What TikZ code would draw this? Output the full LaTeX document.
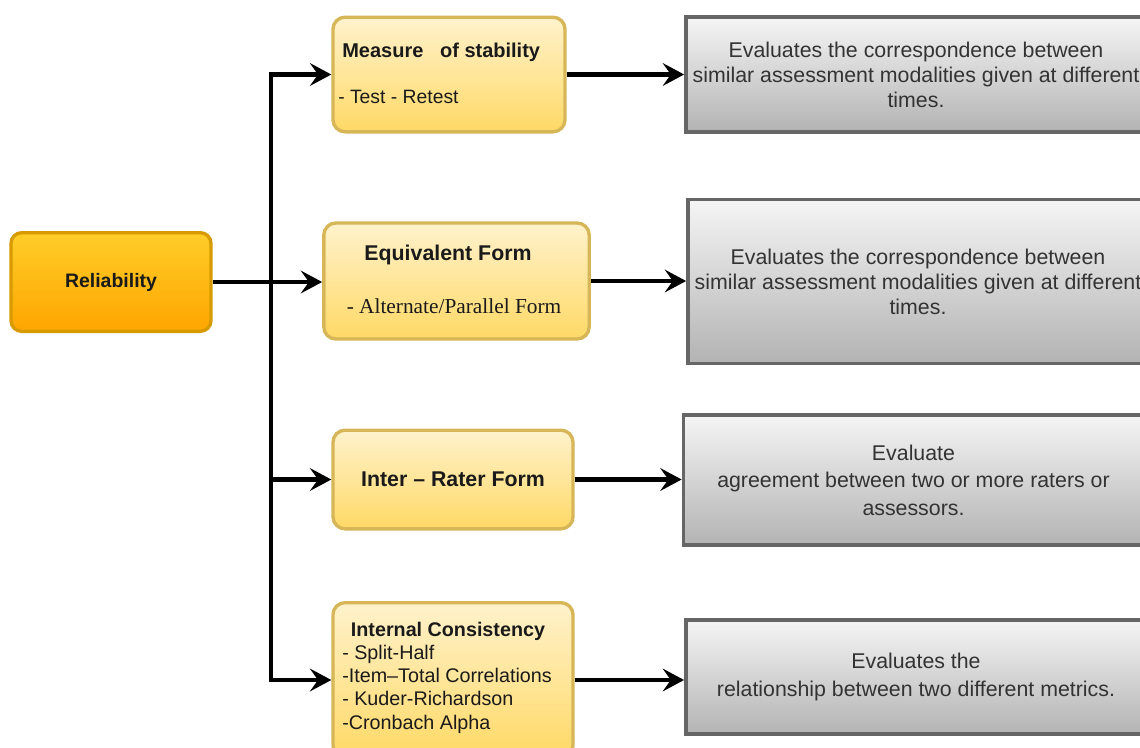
\documentclass[tikz,border=0pt]{standalone}
\usepackage{fontspec}
\setmainfont{Liberation Sans}
\newfontfamily\timesfont{Liberation Serif}
\usetikzlibrary{arrows.meta}
\definecolor{orangetop}{HTML}{FFCD28}
\definecolor{orangebot}{HTML}{FFA500}
\definecolor{orangeline}{HTML}{D79B00}
\definecolor{yellowtop}{HTML}{FFF2CC}
\definecolor{yellowbot}{HTML}{FFD966}
\definecolor{yellowline}{HTML}{D6B656}
\definecolor{graytop}{HTML}{F5F5F5}
\definecolor{graybot}{HTML}{B3B3B3}
\definecolor{grayline}{HTML}{666666}
\definecolor{greytext}{HTML}{333333}
\definecolor{darktext}{HTML}{1A1A1A}
\begin{document}
\begin{tikzpicture}[x=0.75pt,y=-0.75pt,
  rootbox/.style={draw=orangeline, line width=2.5pt, rounded corners=8pt,
    top color=orangetop, bottom color=orangebot, text=darktext,
    font=\fontsize{14.6}{17}\selectfont\bfseries, inner sep=0pt},
  kindbox/.style={draw=yellowline, line width=2.5pt, rounded corners=9pt,
    top color=yellowtop, bottom color=yellowbot, text=darktext, inner sep=0pt},
  notebox/.style={draw=grayline, line width=2.8pt,
    top color=graytop, bottom color=graybot, text=greytext, align=center,
    inner sep=0pt},
  lbl/.style={inner sep=0pt, text=darktext},
  conn/.style={draw=black, line width=3.1pt,
    -{Stealth[length=16pt, width=17pt, inset=6pt]}},
  trunk/.style={draw=black, line width=3.1pt, line cap=rect}
]
\useasboundingbox (0,0) rectangle (1140,747);

% root
\node[rootbox, minimum width=150pt, minimum height=74pt] (rel) at (111,282) {Reliability};

% reliability types
\node[kindbox, minimum width=174pt, minimum height=86pt] (meas) at (449,74.5) {};
\node[kindbox, minimum width=199pt, minimum height=87pt] (eq) at (456.5,281) {};
\node[kindbox, minimum width=180pt, minimum height=74pt,
      font=\fontsize{16}{19}\selectfont\bfseries] (inter) at (453,479.5) {Inter -- Rater Form};
\node[kindbox, minimum width=180pt, minimum height=116pt] (intc) at (453,680) {};

% texts inside the type boxes
\node[lbl, anchor=west, font=\fontsize{15}{18}\selectfont\bfseries] (measT) at (342,52) {Measure\ \ \ of stability};
\node[lbl, anchor=west, font=\fontsize{14.5}{17}\selectfont] (measS) at (338,97) {- Test - Retest};
\node[lbl, font=\fontsize{16}{19}\selectfont\bfseries] (eqT) at (448,255) {Equivalent Form};
\node[lbl, font=\fontsize{16}{19}\selectfont\timesfont] (eqS) at (454,306) {- Alternate/Parallel Form};
\node[lbl, anchor=west, align=left, font=\fontsize{14.8}{17.4}\selectfont] (intcT) at (342,677.5)
  {\hspace{6.5pt}\textbf{Internal Consistency}\\
   - Split-Half\\
   -Item--Total Correlations\\
   - Kuder-Richardson\\
   -Cronbach Alpha};

% descriptions
\node[notebox, minimum width=345pt, minimum height=86pt,
      font=\fontsize{16}{18.75}\selectfont] (g1) at (916,74.5)
  {Evaluates the correspondence between\\similar assessment modalities given at different\\times.};
\node[notebox, minimum width=345pt, minimum height=123pt,
      font=\fontsize{16}{18.75}\selectfont] (g2) at (918,281.5)
  {Evaluates the correspondence between\\similar assessment modalities given at different\\times.};
\node[notebox, minimum width=345pt, minimum height=98pt,
      font=\fontsize{16}{20.6}\selectfont] (g3) at (913.5,480)
  {Evaluate\\agreement between two or more raters or\\assessors.};
\node[notebox, minimum width=345pt, minimum height=86pt,
      font=\fontsize{16}{21.5}\selectfont] (g4) at (916,677)
  {Evaluates the\\relationship between two different metrics.};

% connectors from the root
\coordinate (j) at (271,282);
\draw[conn] (rel.east) -- (rel.east -| eq.west);
\draw[trunk] (j) -- (j |- meas.west);
\draw[trunk] (j) -- (j |- intc.west);
\draw[conn] (j |- meas.west) -- (meas.west);
\draw[conn] (j |- inter.west) -- (inter.west);
\draw[conn] (j |- intc.west) -- (intc.west);

% connectors to descriptions
\draw[conn] (meas.east) -- (meas.east -| g1.west);
\draw[conn] (eq.east) -- (eq.east -| g2.west);
\draw[conn] (inter.east) -- (inter.east -| g3.west);
\draw[conn] (intc.east) -- (intc.east -| g4.west);
\end{tikzpicture}
\end{document}
